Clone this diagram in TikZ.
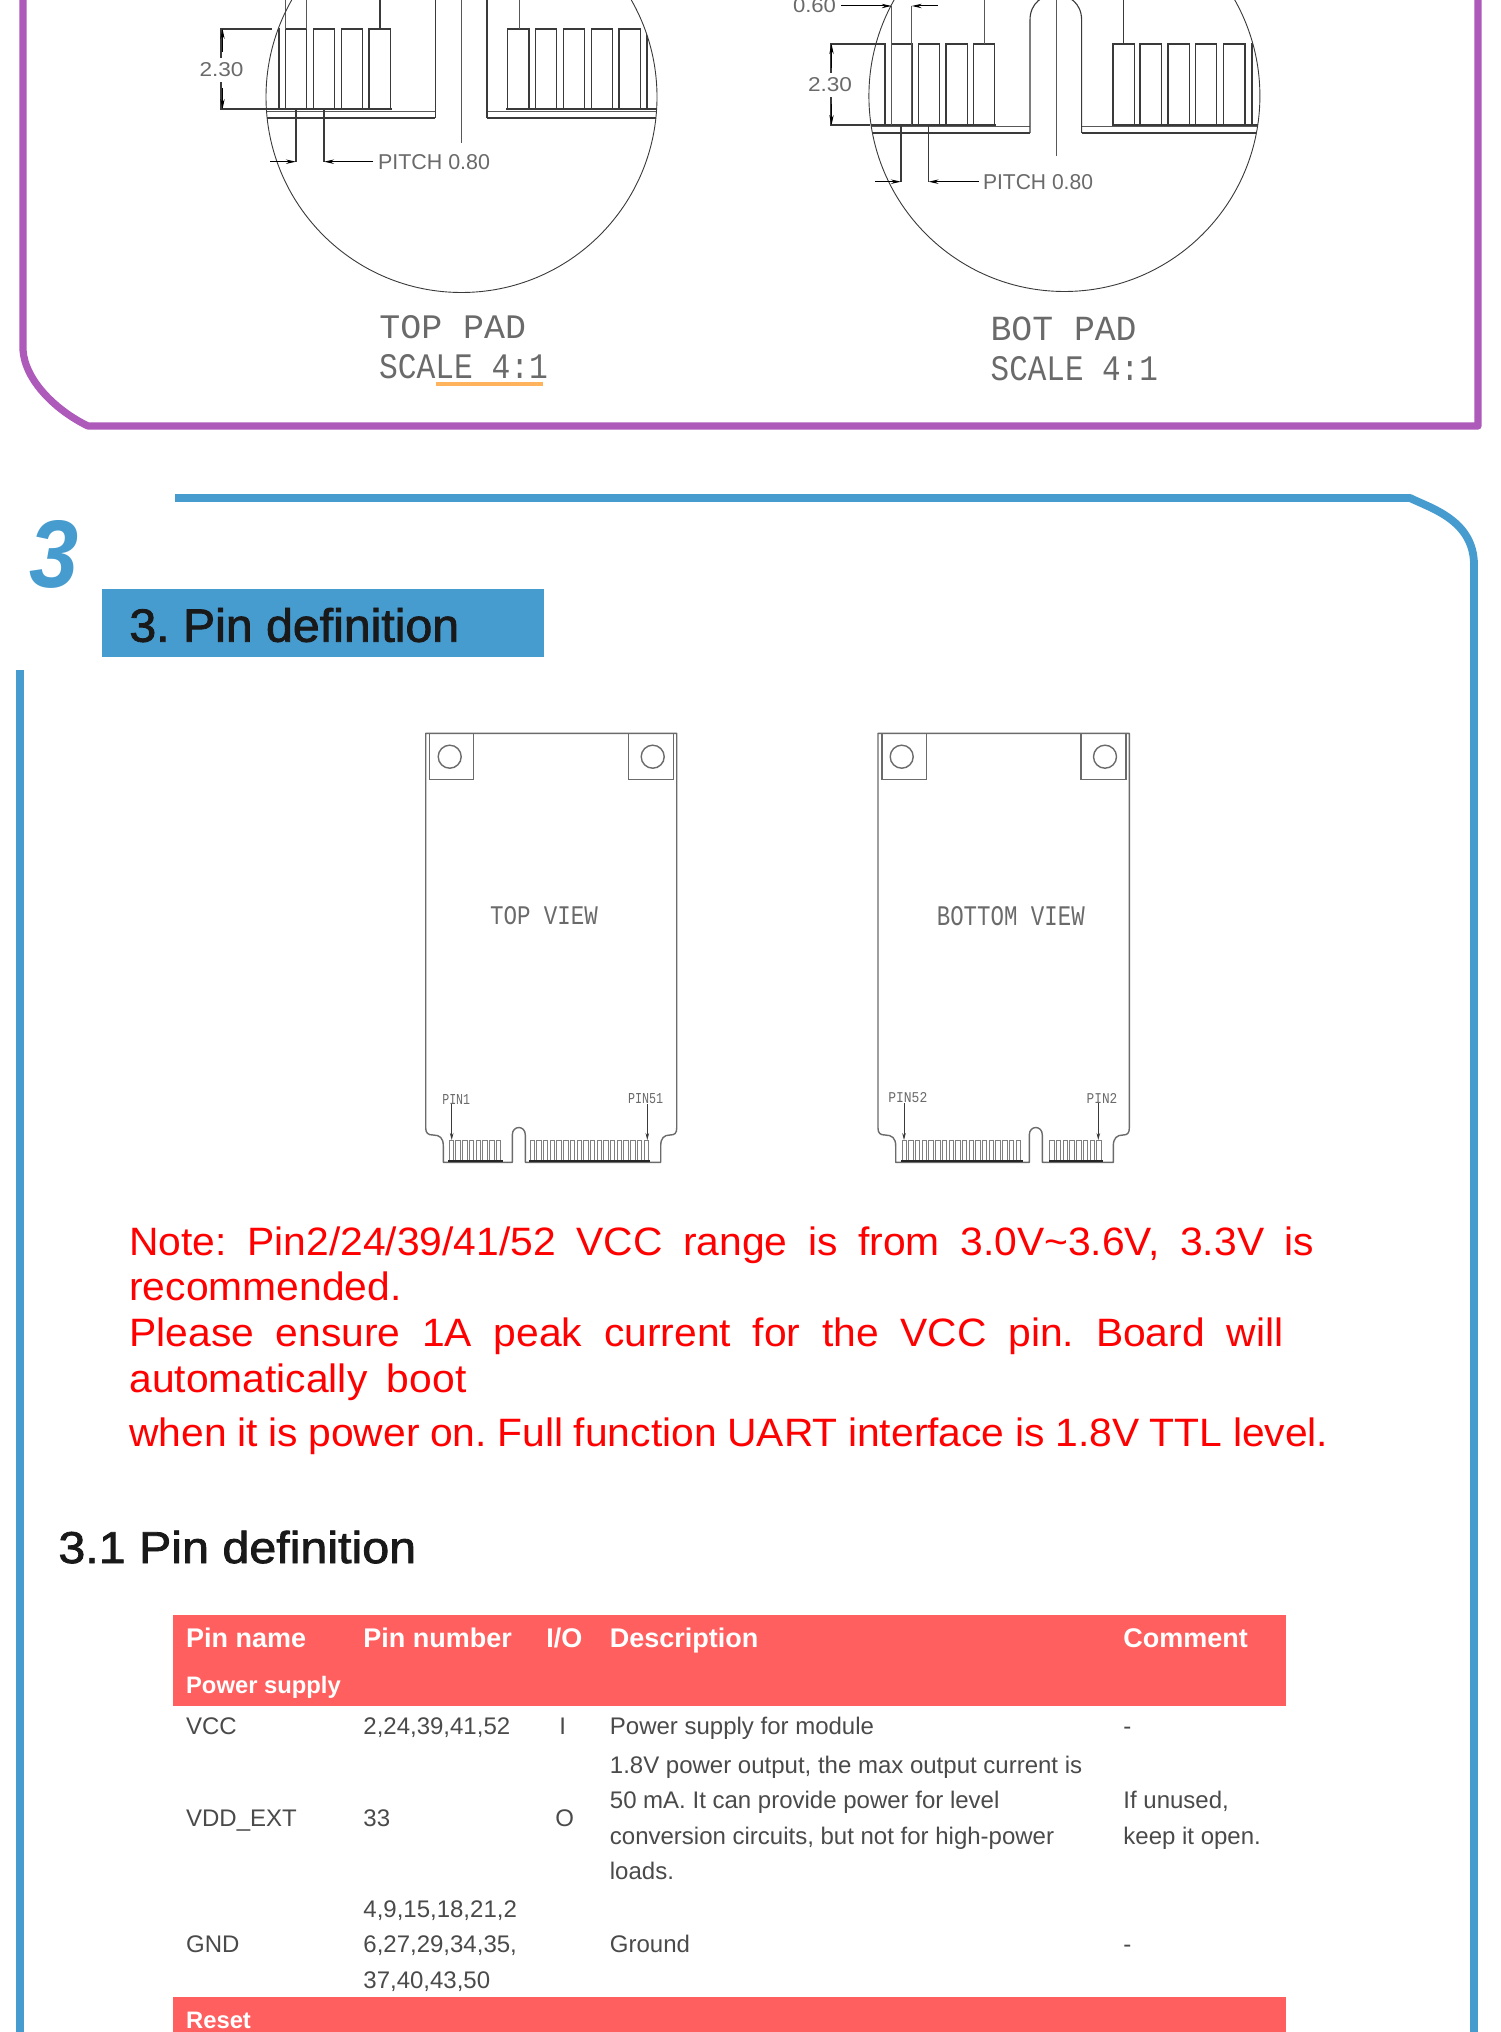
\documentclass[tikz,border=0pt]{standalone}
\usepackage{fontspec}
\usepackage{graphicx}
\setmainfont{Liberation Sans}
\newfontfamily\cadfont{Liberation Mono}
\newfontfamily\dimfont{Liberation Sans}
\newfontfamily\titlefont[FakeBold=1.8,FakeStretch=1.035]{Liberation Sans}
\newfontfamily\subfont[FakeBold=1.8,FakeStretch=1.085]{Liberation Sans}
\newfontfamily\notefont[FakeStretch=1.03]{Liberation Sans}
\usetikzlibrary{arrows.meta}
\definecolor{purpleline}{HTML}{AD5ABB}
\definecolor{blueline}{HTML}{479CCF}
\definecolor{tablered}{HTML}{FF5F5F}
\definecolor{notered}{HTML}{FF0000}
\definecolor{cadink}{HTML}{3A3A3A}
\definecolor{cadtext}{HTML}{6A6A6A}
\definecolor{bodytext}{HTML}{4A4A4A}
\definecolor{underl}{HTML}{FFB35C}
\newcommand{\cadlabel}[3]{\resizebox{#1}{#2}{\cadfont #3}}
\newcommand{\dimlabel}[3]{\resizebox{#1}{#2}{\dimfont #3}}
\newcommand{\padcomb}[3]{%
  \foreach \i in {1,...,#3}{
    \pgfmathsetmacro{\xa}{#1+(\i-1)*#2}
    \pgfmathsetmacro{\xb}{\xa+#2*0.66}
    \draw[combline] (\xa,1140.7) rectangle (\xb,1160.7);
  }}
\tikzset{
  cad/.style={draw=cadink,line width=0.55pt},
  thinline/.style={draw=cadink!85,line width=0.45pt},
  dimhead/.style={draw=black,line width=0.5pt,-{Stealth[length=5pt,width=2.2pt]}},
  pinhead/.style={draw=cadink,line width=0.4pt,-{Stealth[length=3.5pt,width=1.8pt]}},
  board/.style={draw=cadink!75,line width=0.7pt},
  combline/.style={draw=cadink!65,line width=0.4pt},
  combbase/.style={draw=black!85,line width=0.9pt},
  cadnode/.style={inner sep=0pt,text=cadtext},
  purplepath/.style={draw=purpleline,line width=3.6pt},
  bluepath/.style={draw=blueline,line width=3.9pt},
  lefttext/.style={anchor=base west,inner sep=0pt},
  notetext/.style={lefttext,text=notered,font=\fontsize{19.8pt}{20pt}\notefont\frenchspacing},
  headrow/.style={lefttext,text=white,font=\fontsize{13.5pt}{14pt}\selectfont\bfseries},
  bandrow/.style={lefttext,text=white,font=\fontsize{11.9pt}{13pt}\selectfont\bfseries},
  bodycell/.style={lefttext,text=bodytext,font=\fontsize{12pt}{13pt}\selectfont},
}
\begin{document}
\begin{tikzpicture}[x=0.5pt,y=-0.5pt]
\useasboundingbox (0,0) rectangle (1500,2032);
\clip (0,0) rectangle (1500,2032);
\fill[white] (0,0) rectangle (1500,2032);

% purple frame
\draw[purplepath,line join=round] (23,-10) -- (23,350) .. controls (25,380) and (55,410) .. (88,426) -- (1478,426) -- (1478,-10);

% ---------- TOP PAD detail
\begin{scope}
\clip (461.5,97) circle[radius=195.5];
\foreach \a in {285.6,313.4,341.2,369,507.7,535.4,563.2,591.2,619,647}{
  \draw[cad] (\a,29) rectangle ({\a+21.3},109);
}
\draw[cad] (255,29) -- (279,29) -- (279,109);
\draw[cad,line width=1pt] (262,109) -- (392,109);
\draw[cad,line width=1pt] (506,109) -- (662,109);
\draw[thinline] (262,111) -- (435.4,111) (487,111) -- (662,111);
\draw[cad] (262,118) -- (435.4,118) (487,118) -- (662,118);
\end{scope}
\draw[cad] (435.4,0) -- (435.4,118) (487,0) -- (487,118);
\draw[thinline] (461.7,0) -- (461.7,143);
\draw[thinline] (285.6,0) -- (285.6,29) (306.7,0) -- (306.7,29);
\draw[cad] (380,0) -- (380,29);
\draw[thinline] (519,0) -- (519,29);
\draw[thinline,draw=cadink] (461.5,97) circle[radius=195.5];
% dimensions
\draw[cad] (272,29) -- (221,29) -- (221,109) -- (266,109);
\draw[dimhead] (222.5,52) -- (222.5,29);
\draw[dimhead] (222.5,88) -- (222.5,109);
\fill[white] (198,58) rectangle (246,82);
\node[cadnode] (toph) at (221.5,70) {\dimlabel{22pt}{7pt}{2.30}};
\draw[cad] (296,109) -- (296,161.7) (324,109) -- (324,161.7);
\draw[dimhead] (270,161.7) -- (296,161.7);
\draw[dimhead] (373,161.7) -- (324,161.7);
\node[cadnode] (toppitch) at (434,162) {\dimlabel{56pt}{7.5pt}{PITCH 0.80}};
\node[cadnode] (toppad) at (452.7,327.5) {\cadlabel{73.3pt}{11.5pt}{TOP PAD}};
\node[cadnode] (topscale) at (463.5,367) {\cadlabel{84.5pt}{12pt}{SCALE 4:1}};
\fill[underl] (436,382.5) rectangle (543,386);

% ---------- BOT PAD detail
\begin{scope}
\clip (1064.4,96) circle[radius=195.5];
\foreach \a in {891.6,918.4,946,973.4,1113,1140,1168,1195.5,1223.7,1252}{
  \draw[cad] (\a,44) rectangle ({\a+21.3},125);
}
\draw[cad] (860,44) -- (885,44) -- (885,125);
\draw[cad,line width=1pt] (866,125) -- (996,125);
\draw[cad,line width=1pt] (1112,125) -- (1265,125);
\draw[thinline] (866,126.5) -- (1030,126.5) (1081.6,126.5) -- (1265,126.5);
\draw[cad] (872,133) -- (1030,133) (1081.6,133) -- (1256,133);
\end{scope}
\draw[cad] (1030,133) -- (1030,20) .. controls (1030,-14) and (1081.6,-14) .. (1081.6,20) -- (1081.6,133);
\draw[thinline] (1056,0) -- (1056,156);
\draw[thinline] (984.4,0) -- (984.4,44);
\draw[cad] (1123.7,0) -- (1123.7,44);
\draw[thinline,draw=cadink] (1064.4,96) circle[radius=195.5];
\draw[thinline] (891.6,6) -- (891.6,125) (911.7,6) -- (911.7,125);
\node[cadnode] (botsmall) at (814.5,6) {\dimlabel{21.5pt}{7pt}{0.60}};
\draw[dimhead] (841,6) -- (891.6,6);
\draw[dimhead] (937.5,6) -- (911.7,6);
\draw[cad] (877,44) -- (831,44) -- (831,125) -- (870,125);
\draw[dimhead] (831.5,68) -- (831.5,44);
\draw[dimhead] (831.5,104) -- (831.5,125);
\fill[white] (806,73) rectangle (854,97);
\node[cadnode] (both) at (830,85) {\dimlabel{22pt}{7pt}{2.30}};
\draw[cad] (901,125) -- (901,181.7) (928.5,125) -- (928.5,181.7);
\draw[dimhead] (875,181.7) -- (901,181.7);
\draw[dimhead] (979,181.7) -- (928.5,181.7);
\node[cadnode] (botpitch) at (1038,182) {\dimlabel{55pt}{7.5pt}{PITCH 0.80}};
\node[cadnode] (botpad) at (1063.6,328.8) {\cadlabel{73pt}{11.8pt}{BOT PAD}};
\node[cadnode] (botscale) at (1074.3,369) {\cadlabel{83.6pt}{12pt}{SCALE 4:1}};

% ---------- blue frame and section title
\draw[bluepath,line join=round] (175,498) -- (1410,498) .. controls (1430,508) and (1474,520) .. (1474,565) -- (1474,2040);
\draw[bluepath] (20,670) -- (20,2040);
\node[lefttext,text=blueline,font=\fontsize{48pt}{50pt}\selectfont\bfseries\itshape] (secnum) at (29,587) {\scalebox{0.92}[1]{3}};
\fill[blueline] (102,589) rectangle (544,657);
\node[lefttext,text=black!90,font=\fontsize{23.3pt}{25pt}\titlefont\frenchspacing] (sectitle) at (129,641.7) {3. Pin definition};

% ---------- TOP VIEW board
\draw[board,line join=round] (425.7,733.3) -- (425.7,1128) .. controls (425.7,1133) and (428,1135) .. (433,1135)
  .. controls (440,1135) and (443.3,1138) .. (443.3,1146) -- (443.3,1162.3) -- (512.3,1162.3) -- (512.3,1135)
  .. controls (512.3,1125) and (525.3,1125) .. (525.3,1135) -- (525.3,1162.3) -- (660.7,1162.3) -- (660.7,1146)
  .. controls (660.7,1138) and (664,1135) .. (670,1135) .. controls (675,1135) and (676.7,1133) .. (676.7,1128) -- (676.7,733.3) -- cycle;
\draw[board] (429.3,733.3) rectangle (473.3,779.3) (628.7,733.3) rectangle (673.3,779.3);
\draw[board] (449.7,756.7) circle[radius=11.5] (652.7,756.7) circle[radius=11.5];
\node[cadnode] (topview) at (544,916) {\cadlabel{54pt}{9pt}{TOP VIEW}};
\padcomb{449}{6.75}{8}
\padcomb{530}{6.7}{18}
\draw[combbase] (448,1160.7) -- (503,1160.7) (529,1160.7) -- (650,1160.7);
\node[cadnode] (pinone) at (456.2,1099) {\cadlabel{13.9pt}{5pt}{PIN1}};
\node[cadnode] (pinff) at (645.5,1099) {\cadlabel{17.5pt}{5pt}{PIN51}};
\draw[pinhead] (451.7,1104) -- (451.7,1140);
\draw[pinhead] (647.3,1104) -- (647.3,1140);

% ---------- BOTTOM VIEW board
\draw[board,line join=round] (878,733.3) -- (878,1128) .. controls (878,1133) and (880,1135) .. (885,1135)
  .. controls (892,1135) and (895.7,1138) .. (895.7,1146) -- (895.7,1162.3) -- (1029.3,1162.3) -- (1029.3,1135)
  .. controls (1029.3,1125) and (1042.3,1125) .. (1042.3,1135) -- (1042.3,1162.3) -- (1113.3,1162.3) -- (1113.3,1146)
  .. controls (1113.3,1138) and (1117,1135) .. (1123,1135) .. controls (1127.5,1135) and (1129.3,1133) .. (1129.3,1128) -- (1129.3,733.3) -- cycle;
\draw[board] (882,733.3) rectangle (926.7,779.3) (1081,733.3) rectangle (1126,779.3);
\draw[board] (901.7,756.7) circle[radius=11.5] (1105,756.7) circle[radius=11.5];
\node[cadnode] (botview) at (1010.8,916.5) {\cadlabel{74pt}{9.5pt}{BOTTOM VIEW}};
\padcomb{902}{6.7}{18}
\padcomb{1049.5}{6.75}{8}
\draw[combbase] (901,1160.7) -- (1023,1160.7) (1049,1160.7) -- (1103,1160.7);
\node[cadnode] (pinfive) at (907.8,1098) {\cadlabel{19.5pt}{5pt}{PIN52}};
\node[cadnode] (pintwo) at (1102,1098) {\cadlabel{15.3pt}{5pt}{PIN2}};
\draw[pinhead] (904,1103) -- (904,1140);
\draw[pinhead] (1098.3,1103) -- (1098.3,1140);

% ---------- red note
\node[notetext] (noteA) at (129,1255) {\makebox[592.5pt][s]{Note: Pin2/24/39/41/52 VCC range is from 3.0V\textasciitilde3.6V, 3.3V is}};
\node[notetext] (noteB) at (129,1300) {recommended.};
\node[notetext] (noteC) at (129,1346) {\makebox[577pt][s]{Please ensure 1A peak current for the VCC pin. Board will}};
\node[notetext] (noteD) at (129,1392) {\makebox[168.5pt][s]{automatically boot}};
\node[notetext] (noteE) at (129,1446) {\makebox[599.5pt][s]{when it is power on. Full function UART interface is 1.8V TTL level.}};

\node[lefttext,text=black!90,font=\fontsize{22.3pt}{24pt}\subfont\frenchspacing] (subtitle) at (58,1563) {3.1 Pin definition};

% ---------- table
\fill[tablered] (172.5,1615) rectangle (1285.5,1705.7);
\fill[tablered] (172.5,1997) rectangle (1285.5,2040);
\node[headrow] (hname) at (185.7,1647) {Pin name};
\node[headrow] (hnum) at (363,1647) {Pin number};
\node[headrow] (hio) at (546,1647) {I/O};
\node[headrow] (hdesc) at (609.5,1647) {Description};
\node[headrow] (hcom) at (1123,1647) {Comment};
\node[bandrow] (hpow) at (185.7,1693) {Power supply};
\node[bandrow] (hreset) at (185.7,2028) {Reset};

\node[bodycell] (vcc) at (185.7,1734) {VCC};
\node[bodycell] (vccn) at (363,1734) {2,24,39,41,52};
\node[bodycell] (vcci) at (559,1734) {I};
\node[bodycell] (vccd) at (609.5,1734) {Power supply for module};
\node[bodycell] (vccc) at (1123,1734) {-};

\node[bodycell] (vdd) at (185.7,1826) {VDD\_EXT};
\node[bodycell] (vddn) at (363,1826) {33};
\node[bodycell] (vddo) at (555,1826) {O};
\node[bodycell] (vdda) at (609.5,1773) {1.8V power output, the max output current is};
\node[bodycell] (vddb) at (609.5,1808) {50 mA. It can provide power for level};
\node[bodycell] (vddc) at (609.5,1844) {conversion circuits, but not for high-power};
\node[bodycell] (vddd) at (609.5,1879) {loads.};
\node[bodycell] (vdde) at (1123,1808) {If unused,};
\node[bodycell] (vddf) at (1123,1844) {keep it open.};

\node[bodycell] (gnda) at (363,1917) {4,9,15,18,21,2};
\node[bodycell] (gndb) at (363,1952) {6,27,29,34,35,};
\node[bodycell] (gndc) at (363,1988) {37,40,43,50};
\node[bodycell] (gnd) at (185.7,1952) {GND};
\node[bodycell] (gndd) at (609.5,1952) {Ground};
\node[bodycell] (gnde) at (1123,1952) {-};
\end{tikzpicture}
\end{document}
